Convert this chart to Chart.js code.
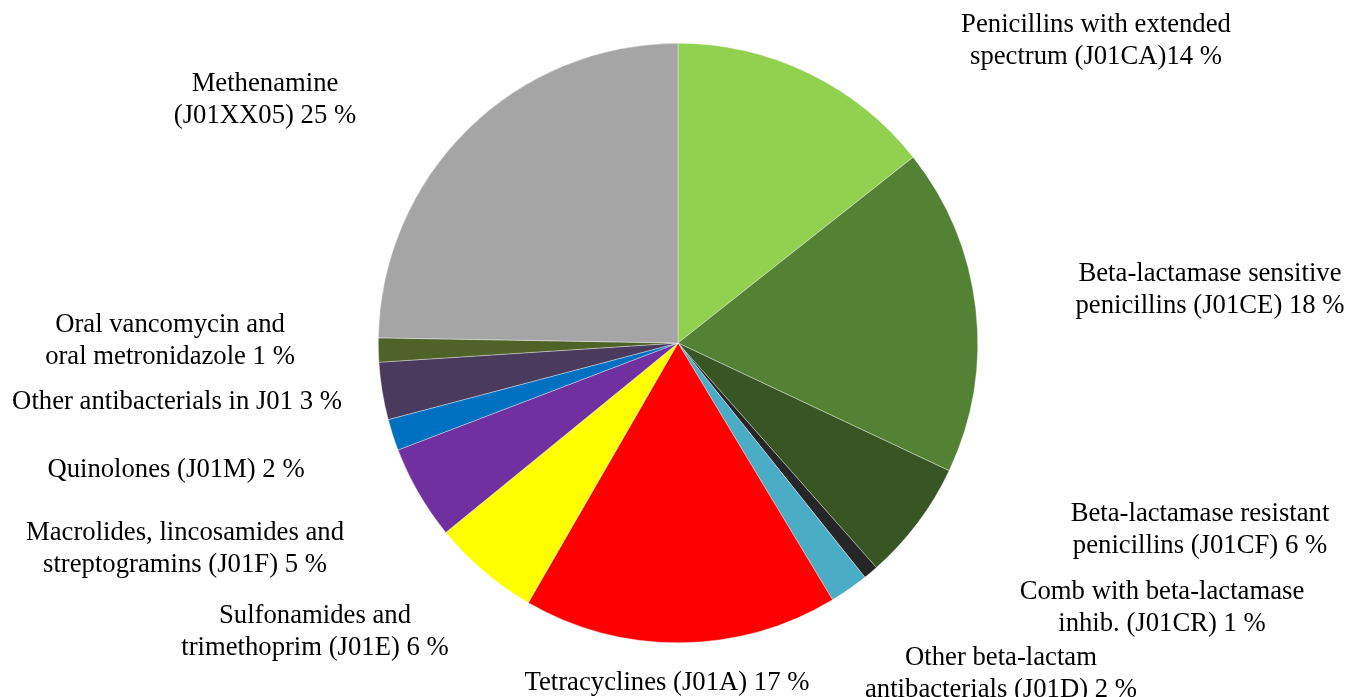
<!DOCTYPE html>
<html>
<head>
<meta charset="utf-8">
<script src="https://cdn.jsdelivr.net/npm/chart.js@4/dist/chart.umd.min.js"></script>
<style>
  html, body { margin: 0; padding: 0; background: #fff; }
  canvas { display: block; }
</style>
</head>
<body>
<canvas id="pieChart" width="1361" height="697"></canvas>
<script>
// Data (share of use, clockwise from 12 o'clock)
const categories = [
  ['Penicillins with extended', 'spectrum (J01CA)14 %'],
  ['Beta-lactamase sensitive', 'penicillins (J01CE) 18 %'],
  ['Beta-lactamase resistant', 'penicillins (J01CF) 6 %'],
  ['Comb with beta-lactamase', 'inhib. (J01CR) 1 %'],
  ['Other beta-lactam', 'antibacterials (J01D) 2 %'],
  ['Tetracyclines (J01A) 17 %'],
  ['Sulfonamides and', 'trimethoprim (J01E) 6 %'],
  ['Macrolides, lincosamides and', 'streptogramins (J01F) 5 %'],
  ['Quinolones (J01M) 2 %'],
  ['Other antibacterials in J01 3 %'],
  ['Oral vancomycin and', 'oral metronidazole 1 %'],
  ['Methenamine', '(J01XX05) 25 %']
];
const shares = [14.4, 17.7, 6.5, 0.8, 2.1, 17.0, 5.8, 5.1, 1.7, 3.1, 1.3, 24.8];

const sliceColors = [
  '#92D050', '#548235', '#375623', '#262626', '#4BACC6', '#FF0000',
  '#FFFF00', '#7030A0', '#0070C0', '#493A5E', '#4F6228', '#A5A5A5'
];

// label anchor (centre x, centre y of first line) – layout only
const labelPos = [
  [1096, 25], [1210, 274], [1200, 514], [1162, 592], [1001, 658], [667, 683],
  [315, 616], [185, 533], [176, 470], [177, 402], [170, 325], [265, 84]
];
const lineGap = 31.5;

// draws the outside labels, Excel style
const outsideLabels = {
  id: 'outsideLabels',
  afterDraw(chart) {
    const c = chart.ctx;
    c.save();
    c.font = '26.7px "Liberation Serif", "Times New Roman", serif';
    c.fillStyle = '#000';
    c.textAlign = 'center';
    c.textBaseline = 'middle';
    categories.forEach((lines, i) => {
      const [x, y] = labelPos[i];
      lines.forEach((ln, k) => c.fillText(ln, x, y + k * lineGap));
    });
    c.restore();
  }
};

new Chart(document.getElementById('pieChart'), {
  type: 'pie',
  data: {
    labels: categories.map(l => l.join(' ')),
    datasets: [{
      data: shares,
      backgroundColor: sliceColors,
      borderColor: 'rgba(255,255,255,0.6)',
      borderWidth: 0.6
    }]
  },
  options: {
    responsive: false,
    animation: false,
    layout: { padding: { left: 378, right: 383, top: 43, bottom: 54 } },
    plugins: {
      legend: { display: false },
      tooltip: { enabled: false }
    }
  },
  plugins: [outsideLabels]
});
</script>
</body>
</html>
